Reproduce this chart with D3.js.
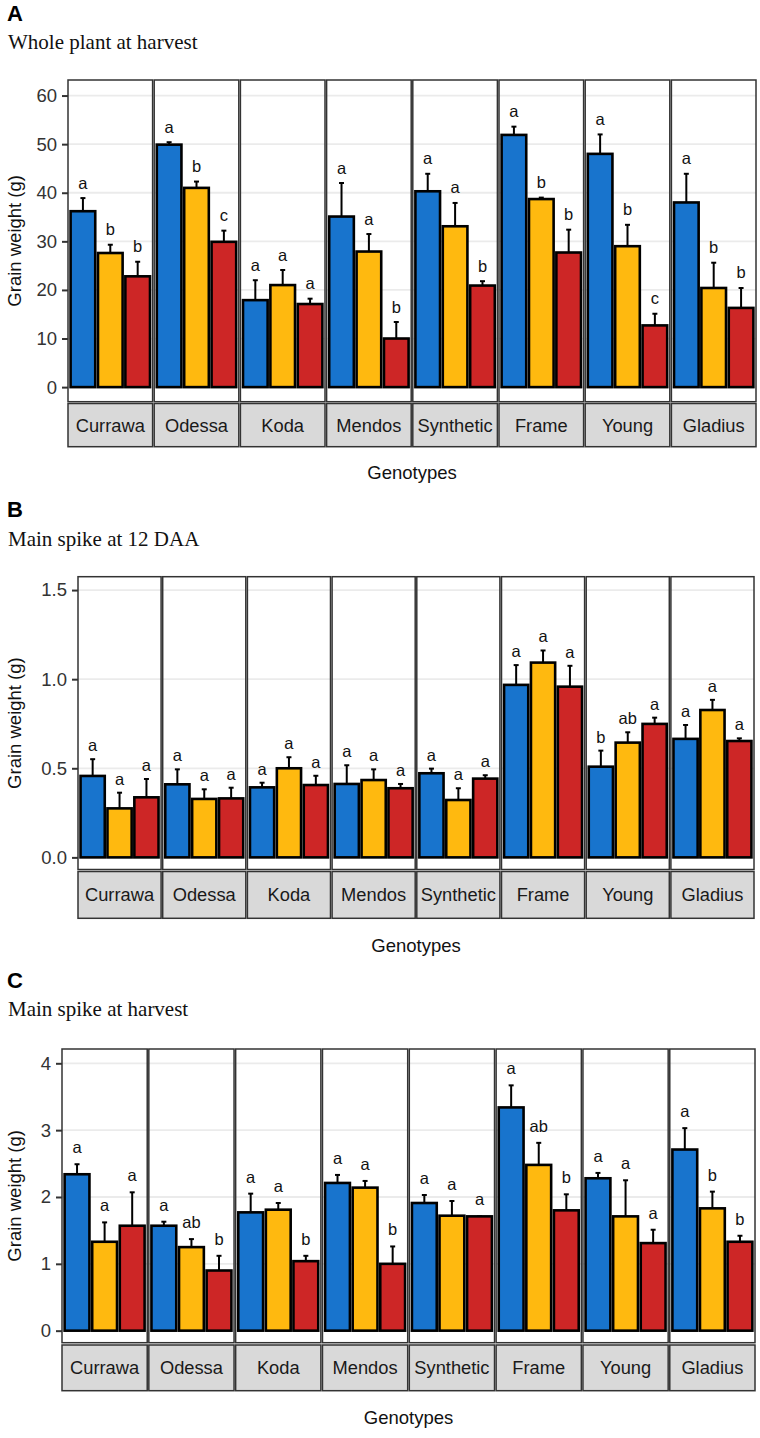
<!DOCTYPE html>
<html><head><meta charset="utf-8">
<script src="https://cdn.jsdelivr.net/npm/d3@7"></script>
<style>body{margin:0;background:#fff} svg{display:block}</style>
</head><body><svg id="c" width="760" height="1438"></svg>
<script>
// ---------- data ----------
const genotypes = ["Currawa","Odessa","Koda","Mendos","Synthetic","Frame","Young","Gladius"];
const treatments = ["T1","T2","T3"];
const treatmentColors = ["#1874CD","#FFB90F","#CD2626"];

// A: whole plant at harvest (mean, mean + error)
const wholePlantMean = [[36.2,27.6,22.8],[49.9,41.0,29.9],[17.9,21.0,17.1],[35.1,27.9,10.0],
                        [40.3,33.1,20.9],[51.9,38.7,27.7],[48.0,29.0,12.7],[38.0,20.4,16.3]];
const wholePlantUpper = [[38.9,29.3,25.8],[50.4,42.3,32.2],[22.0,24.1,18.2],[42.0,31.5,13.4],
                         [43.9,37.9,21.8],[53.6,39.0,32.4],[52.0,33.4,15.1],[43.9,25.6,20.4]];
const wholePlantLetters = [["a","b","b"],["a","b","c"],["a","a","a"],["a","a","b"],
                           ["a","a","b"],["a","b","b"],["a","b","c"],["a","b","b"]];
const wholePlantTicks = [0,10,20,30,40,50,60];

// B: main spike at 12 DAA
const spike12Mean = [[0.457,0.275,0.337],[0.410,0.328,0.331],[0.393,0.500,0.406],[0.412,0.434,0.388],
                     [0.472,0.322,0.442],[0.968,1.093,0.958],[0.509,0.644,0.749],[0.665,0.827,0.653]];
const spike12Upper = [[0.551,0.363,0.440],[0.494,0.382,0.391],[0.419,0.562,0.458],[0.517,0.494,0.412],
                      [0.498,0.388,0.461],[1.079,1.161,1.075],[0.599,0.702,0.784],[0.743,0.884,0.668]];
const spike12Letters = [["a","a","a"],["a","a","a"],["a","a","a"],["a","a","a"],
                        ["a","a","a"],["a","a","a"],["b","ab","a"],["a","a","a"]];
const spike12Ticks = [0,0.5,1.0,1.5];

// C: main spike at harvest
const spikeHarvestMean = [[2.34,1.33,1.57],[1.57,1.25,0.90],[1.77,1.81,1.04],[2.21,2.14,1.00],
                          [1.91,1.72,1.71],[3.34,2.48,1.80],[2.28,1.71,1.31],[2.71,1.83,1.33]];
const spikeHarvestUpper = [[2.49,1.62,2.07],[1.63,1.37,1.12],[2.05,1.91,1.12],[2.33,2.24,1.26],
                           [2.03,1.94,1.71],[3.67,2.81,2.04],[2.36,2.25,1.51],[3.03,2.08,1.42]];
const spikeHarvestLetters = [["a","a","a"],["a","ab","b"],["a","a","b"],["a","a","b"],
                             ["a","a","a"],["a","ab","b"],["a","a","a"],["a","b","b"]];
const spikeHarvestTicks = [0,1,2,3,4];

// ---------- layout ----------
const panels = [
  {tag:"A", title:"Whole plant at harvest", tagY:21, titleY:49,
   left:68, right:756, top:80, bottom:401.7, stripTop:403.5, stripBottom:446.7, xTitleY:479,
   domain:[-3.0,63.2], mean:wholePlantMean, upper:wholePlantUpper, letters:wholePlantLetters,
   ticks:wholePlantTicks, fmt:d3.format("d"), letterOff:9.5},
  {tag:"B", title:"Main spike at 12 DAA", tagY:517, titleY:546,
   left:78, right:754, top:576.7, bottom:869.5, stripTop:871.5, stripBottom:918.3, xTitleY:952,
   domain:[-0.068,1.575], mean:spike12Mean, upper:spike12Upper, letters:spike12Letters,
   ticks:spike12Ticks, fmt:d3.format(".1f"), letterOff:8},
  {tag:"C", title:"Main spike at harvest", tagY:988, titleY:1016,
   left:62, right:755, top:1049, bottom:1342.7, stripTop:1345, stripBottom:1390.7, xTitleY:1424,
   domain:[-0.18,4.214], mean:spikeHarvestMean, upper:spikeHarvestUpper, letters:spikeHarvestLetters,
   ticks:spikeHarvestTicks, fmt:d3.format("d"), letterOff:11}
];

const svg = d3.select("#c");
const sans = "'Liberation Sans', Arial, Helvetica, sans-serif";
const serif = "'Liberation Serif', 'Times New Roman', serif";
const gap = 1.6;

panels.forEach(p => {
  const g = svg.append("g");
  g.append("text").attr("x", 7).attr("y", p.tagY).text(p.tag)
    .attr("font-family", sans).attr("font-weight", "bold").attr("font-size", 22).attr("fill", "#000");
  g.append("text").attr("x", 8).attr("y", p.titleY).text(p.title)
    .attr("font-family", serif).attr("font-size", 21).attr("fill", "#111");

  const y = d3.scaleLinear().domain(p.domain).range([p.bottom, p.top]);
  const pw = (p.right - p.left - gap * (genotypes.length - 1)) / genotypes.length;
  const fx = d3.scaleOrdinal().domain(genotypes)
    .range(genotypes.map((d, i) => p.left + i * (pw + gap)));
  const x = d3.scaleBand().domain(treatments).range([0, pw]).paddingInner(0.1).paddingOuter(0.095);

  // y axis
  const yAxis = d3.axisLeft(y).tickValues(p.ticks).tickFormat(p.fmt).tickSize(6).tickPadding(5);
  const ax = g.append("g").attr("transform", `translate(${p.left},0)`).call(yAxis);
  ax.select(".domain").remove();
  ax.selectAll(".tick line").attr("stroke", "#333").attr("stroke-width", 2);
  ax.selectAll(".tick text").attr("font-family", sans).attr("font-size", 18.5).attr("fill", "#333");

  g.append("text")
    .attr("transform", `translate(21,${(p.top + p.bottom) / 2}) rotate(-90)`)
    .attr("text-anchor", "middle").text("Grain weight (g)")
    .attr("font-family", sans).attr("font-size", 18.5).attr("fill", "#111");

  genotypes.forEach((gen, gi) => {
    const px = fx(gen);
    const pg = g.append("g").attr("transform", `translate(${px},0)`);
    pg.append("rect").attr("x", 0).attr("y", p.top).attr("width", pw).attr("height", p.bottom - p.top)
      .attr("fill", "#fff");
    pg.selectAll("line.grid").data(p.ticks).enter().append("line").attr("class", "grid")
      .attr("x1", 0).attr("x2", pw).attr("y1", d => y(d)).attr("y2", d => y(d))
      .attr("stroke", "#EBEBEB").attr("stroke-width", 1.8);

    const rows = treatments.map((t, ti) => ({t, ti, m: p.mean[gi][ti], u: p.upper[gi][ti], l: p.letters[gi][ti]}));
    // error bars
    pg.selectAll("line.err").data(rows).enter().append("line").attr("class", "err")
      .attr("x1", d => x(d.t) + x.bandwidth() / 2).attr("x2", d => x(d.t) + x.bandwidth() / 2)
      .attr("y1", d => y(d.m)).attr("y2", d => y(d.u)).attr("stroke", "#000").attr("stroke-width", 2);
    pg.selectAll("line.cap").data(rows).enter().append("line").attr("class", "cap")
      .attr("x1", d => x(d.t) + x.bandwidth() / 2 - 2.5).attr("x2", d => x(d.t) + x.bandwidth() / 2 + 2.5)
      .attr("y1", d => y(d.u)).attr("y2", d => y(d.u)).attr("stroke", "#000").attr("stroke-width", 2);
    // bars
    pg.selectAll("rect.bar").data(rows).enter().append("rect").attr("class", "bar")
      .attr("x", d => x(d.t)).attr("width", x.bandwidth())
      .attr("y", d => y(d.m)).attr("height", d => y(0) - y(d.m))
      .attr("fill", d => treatmentColors[d.ti]).attr("stroke", "#000").attr("stroke-width", 2.6);
    // letters
    pg.selectAll("text.let").data(rows).enter().append("text").attr("class", "let")
      .attr("x", d => x(d.t) + x.bandwidth() / 2).attr("y", d => y(d.u) - p.letterOff)
      .attr("text-anchor", "middle").text(d => d.l)
      .attr("font-family", sans).attr("font-size", 16.5).attr("fill", "#111");
    // border
    pg.append("rect").attr("x", 0).attr("y", p.top).attr("width", pw).attr("height", p.bottom - p.top)
      .attr("fill", "none").attr("stroke", "#333").attr("stroke-width", 1.5);
    // strip
    pg.append("rect").attr("x", 0).attr("y", p.stripTop).attr("width", pw).attr("height", p.stripBottom - p.stripTop)
      .attr("fill", "#D9D9D9").attr("stroke", "#333").attr("stroke-width", 1.5);
    pg.append("text").attr("x", pw / 2).attr("y", (p.stripTop + p.stripBottom) / 2 + 6.5)
      .attr("text-anchor", "middle").text(gen)
      .attr("font-family", sans).attr("font-size", 18.3).attr("fill", "#1a1a1a");
  });

  g.append("text").attr("x", (p.left + p.right) / 2).attr("y", p.xTitleY)
    .attr("text-anchor", "middle").text("Genotypes")
    .attr("font-family", sans).attr("font-size", 18.5).attr("fill", "#111");
});
</script></body></html>
